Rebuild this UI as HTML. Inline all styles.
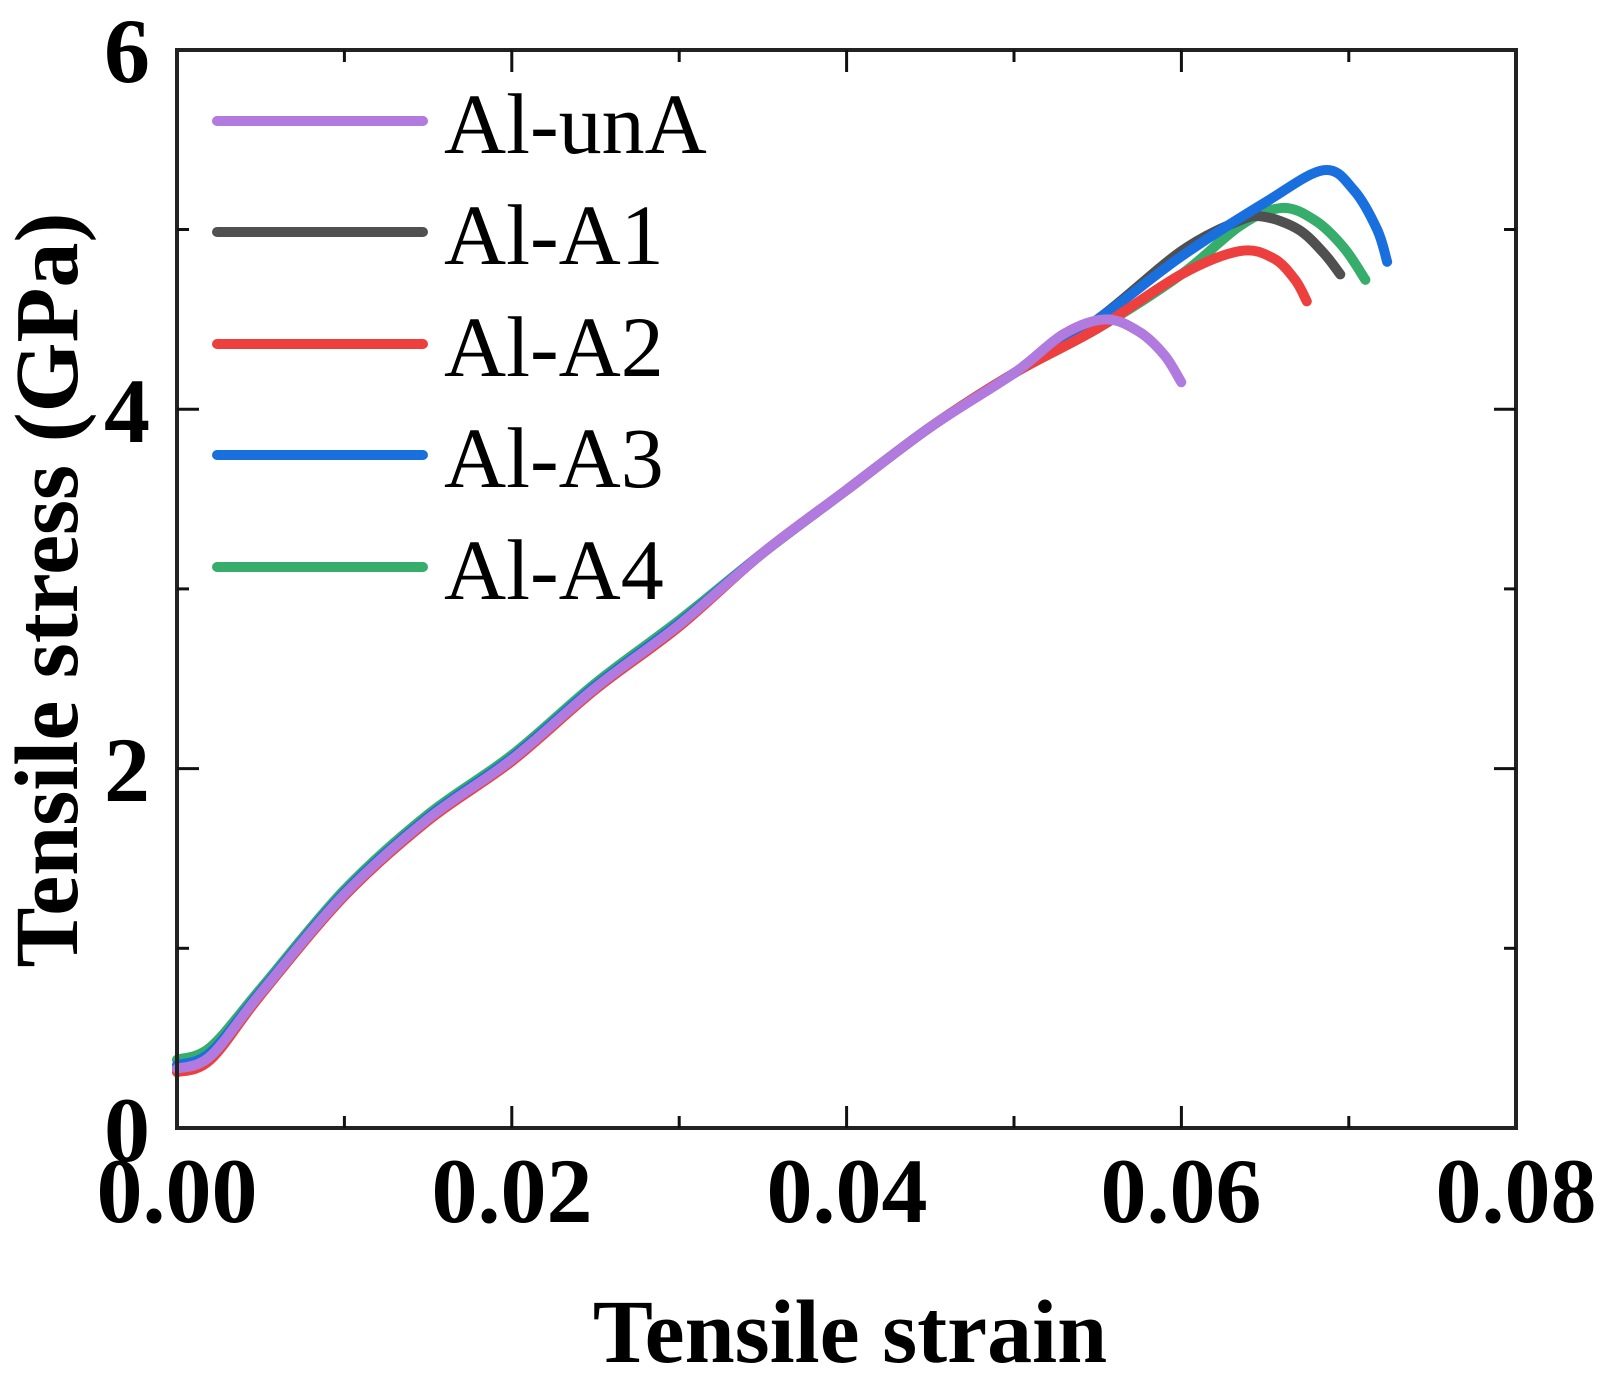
<!DOCTYPE html>
<html><head><style>
html,body{margin:0;padding:0;background:#fff;}
svg{display:block;}
text{font-family:"Liberation Serif",serif;}
</style></head><body>
<svg id="s" width="1610" height="1384" viewBox="0 0 1610 1384" xmlns="http://www.w3.org/2000/svg">
<g id="curves" fill="none" stroke-width="10" stroke-linecap="round" stroke-linejoin="round"></g>
<rect x="177" y="50" width="1339" height="1078" fill="none" stroke="#222" stroke-width="4"/>
<g id="ticks" stroke="#111" stroke-width="3"></g>
<g font-weight="bold" font-size="92" text-anchor="middle" fill="#000">
<text x="177" y="1222">0.00</text>
<text x="512" y="1222">0.02</text>
<text x="847" y="1222">0.04</text>
<text x="1181" y="1222">0.06</text>
<text x="1516" y="1222">0.08</text>
</g>
<g font-weight="bold" font-size="92" text-anchor="end" fill="#000">
<text x="150" y="1161">0</text>
<text x="150" y="801">2</text>
<text x="150" y="442">4</text>
<text x="150" y="82">6</text>
</g>
<text x="850" y="1362" font-weight="bold" font-size="90" text-anchor="middle">Tensile strain</text>
<text transform="translate(77,590) rotate(-90)" font-weight="bold" font-size="90" text-anchor="middle">Tensile stress (GPa)</text>
<g stroke-width="10" stroke-linecap="round">
<line x1="217" y1="121" x2="423" y2="121" stroke="#b07ade"/>
<line x1="217" y1="232" x2="423" y2="232" stroke="#505050"/>
<line x1="217" y1="344" x2="423" y2="344" stroke="#ee3f3f"/>
<line x1="217" y1="455" x2="423" y2="455" stroke="#1a6fdf"/>
<line x1="217" y1="567" x2="423" y2="567" stroke="#37ad6b"/>
</g>
<g font-size="86" fill="#000">
<text x="444" y="153">Al-unA</text>
<text x="444" y="264">Al-A1</text>
<text x="444" y="376">Al-A2</text>
<text x="444" y="487">Al-A3</text>
<text x="444" y="599">Al-A4</text>
</g>
</svg>
<script>
var X=function(e){return 177+e*16738},Y=function(s){return 1128-s*179.7};
var t=document.getElementById('ticks'),h='';
for(var i=1;i<8;i++){var x=177+i*167.4,L=(i%2?12:22);h+='<line x1="'+x+'" y1="1128" x2="'+x+'" y2="'+(1128-L)+'"/><line x1="'+x+'" y1="50" x2="'+x+'" y2="'+(50+L)+'"/>';}
for(var j=1;j<6;j++){var y=1128-j*179.7,L=(j%2?12:22);h+='<line x1="177" y1="'+y+'" x2="'+(177+L)+'" y2="'+y+'"/><line x1="1516" y1="'+y+'" x2="'+(1516-L)+'" y2="'+y+'"/>';}
t.innerHTML=h;
function base(off,end){var b=[[0,0.33+off],[0.002,0.4+off],[0.005,0.75+off/2],[0.01,1.3+off/2],[0.015,1.72+off/2],[0.02,2.05+off/2],[0.025,2.45+off/2],[0.03,2.8+off/2],[0.035,3.2],[0.04,3.55],[0.045,3.9],[0.05,4.2]];return b.concat(end);}
function path(p){var q=p.map(function(a){return[X(a[0]),Y(a[1])]});var d='M'+q[0][0]+','+q[0][1];
for(var i=0;i<q.length-1;i++){var p0=q[i-1]||q[i],p1=q[i],p2=q[i+1],p3=q[i+2]||p2;
d+=' C'+(p1[0]+(p2[0]-p0[0])/6)+','+(p1[1]+(p2[1]-p0[1])/6)+' '+(p2[0]-(p3[0]-p1[0])/6)+','+(p2[1]-(p3[1]-p1[1])/6)+' '+p2[0]+','+p2[1];}return d;}
var S=[
['#37ad6b',base(0.05,[[0.055,4.45],[0.06,4.75],[0.0635,5.02],[0.066,5.12],[0.068,5.05],[0.0697,4.9],[0.071,4.72]])],
['#505050',base(0,[[0.055,4.5],[0.06,4.88],[0.0635,5.05],[0.065,5.07],[0.067,5.0],[0.0685,4.87],[0.0695,4.75]])],
['#1a6fdf',base(0.02,[[0.055,4.5],[0.06,4.85],[0.065,5.15],[0.0685,5.33],[0.0703,5.22],[0.0717,5.0],[0.0723,4.82]])],
['#ee3f3f',base(-0.02,[[0.055,4.45],[0.06,4.75],[0.0635,4.88],[0.0655,4.84],[0.0668,4.72],[0.0675,4.6]])],
['#b07ade',base(0,[[0.053,4.42],[0.0555,4.5],[0.0575,4.43],[0.059,4.3],[0.06,4.15]])]
];
var g=document.getElementById('curves'),s='';
S.forEach(function(c){s+='<path d="'+path(c[1])+'" stroke="'+c[0]+'"/>';});g.innerHTML=s;
</script>
</body></html>
